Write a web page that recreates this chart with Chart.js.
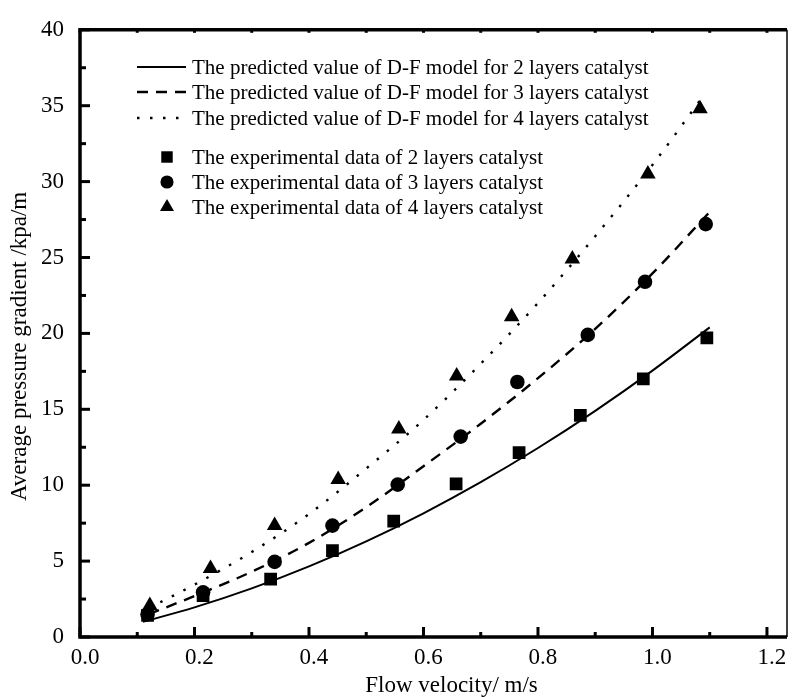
<!DOCTYPE html>
<html>
<head>
<meta charset="utf-8">
<title>Average pressure gradient vs flow velocity</title>
<script src="https://cdn.jsdelivr.net/npm/chart.js@4.4.1/dist/chart.umd.min.js"></script>
<style>
    html, body { margin: 0; padding: 0; background: #fff; }
    #wrap { width: 796px; height: 697px; }
</style>
</head>
<body>
<div id="wrap"><canvas id="myChart" width="796" height="697"></canvas></div>
<script>
"use strict";

// axis ticks
var xTicks = [0, 0.2, 0.4, 0.6, 0.8, 1.0, 1.2];
var yTicks = [0, 5, 10, 15, 20, 25, 30, 35, 40];

// D-F model curves
var modelX2 = [0.11, 0.2, 0.3, 0.4, 0.5, 0.6, 0.7, 0.8, 0.9, 1.0, 1.1];
var modelY2 = [1.0, 1.95, 3.2, 4.65, 6.3, 8.15, 10.2, 12.45, 14.9, 17.55, 20.4];
var modelX3 = [0.12, 0.2, 0.3, 0.4, 0.5, 0.6, 0.7, 0.8, 0.9, 1.0, 1.1];
var modelY3 = [1.5, 2.7, 4.3, 6.2, 8.55, 11.25, 14.05, 17.05, 20.3, 23.95, 28.0];
var modelX4 = [0.12, 0.2, 0.3, 0.4, 0.5, 0.6, 0.7, 0.8, 0.9, 1.0, 1.09];
var modelY4 = [1.9, 3.45, 5.6, 8.1, 11.1, 14.3, 18.0, 22.0, 26.4, 31.1, 35.7];

// experimental data
var expX2 = [0.118, 0.215, 0.333, 0.441, 0.548, 0.657, 0.767, 0.874, 0.984, 1.095];
var expY2 = [1.43, 2.73, 3.81, 5.69, 7.64, 10.08, 12.14, 14.6, 17.0, 19.7];
var expX3 = [0.118, 0.215, 0.340, 0.441, 0.555, 0.665, 0.764, 0.887, 0.987, 1.093];
var expY3 = [1.5, 2.94, 4.95, 7.34, 10.04, 13.2, 16.8, 19.9, 23.4, 27.2];
var expX4 = [0.122, 0.228, 0.340, 0.451, 0.557, 0.658, 0.754, 0.860, 0.992, 1.083];
var expY4 = [2.08, 4.52, 7.34, 10.37, 13.7, 17.2, 21.1, 24.9, 30.5, 34.8];

var seriesLabels = [
    "The predicted value of D-F model for 2 layers catalyst",
    "The predicted value of D-F model for 3 layers catalyst",
    "The predicted value of D-F model for 4 layers catalyst",
    "The experimental data of 2 layers catalyst",
    "The experimental data of 3 layers catalyst",
    "The experimental data of 4 layers catalyst"
];
var xTitle = "Flow velocity/ m/s";
var yTitle = "Average pressure gradient /kpa/m";

var FONT = '"Liberation Serif", "Times New Roman", serif';

function pairs(xs, ys) {
    var out = [];
    for (var i = 0; i <= xs.length - 1; i++) {
        out.push({ x: xs[i], y: ys[i] });
    }
    return out;
}

function lineSet(label, xs, ys, dash, width) {
    return {
        label: label,
        data: pairs(xs, ys),
        showLine: true,
        borderColor: '#000',
        borderWidth: width,
        borderDash: dash,
        borderCapStyle: 'butt',
        cubicInterpolationMode: 'monotone',
        pointRadius: 0,
        order: 2
    };
}

function pointSet(label, xs, ys, style, radius) {
    return {
        label: label,
        data: pairs(xs, ys),
        showLine: false,
        pointStyle: style,
        pointRadius: radius,
        pointBackgroundColor: '#000',
        pointBorderWidth: 0,
        order: 1
    };
}

// inside ticks and the frame, placed through the chart's scales
var frameTicks = {
    id: 'frameTicks',
    afterDraw: function (chart) {
        var ctx = chart.ctx;
        var a = chart.chartArea;
        var x = chart.scales.x;
        var y = chart.scales.y;
        ctx.save();
        ctx.strokeStyle = '#000';
        ctx.lineCap = 'butt';

        ctx.lineWidth = 3;
        for (var v = 0; v <= 12; v++) {
            var px = x.getPixelForValue(v / 10);
            var len = v % 2 === 0 ? 10 : 5;
            ctx.beginPath();
            ctx.moveTo(px, a.bottom);
            ctx.lineTo(px, a.bottom - len);
            ctx.stroke();
            ctx.beginPath();
            ctx.moveTo(px, a.top);
            ctx.lineTo(px, a.top + 3);
            ctx.stroke();
        }
        for (var k = 0; k <= 16; k++) {
            var py = y.getPixelForValue(k * 2.5);
            var ylen = k % 2 === 0 ? 10 : 6;
            ctx.beginPath();
            ctx.moveTo(a.left, py);
            ctx.lineTo(a.left + ylen, py);
            ctx.stroke();
        }

        ctx.lineWidth = 1.5;
        ctx.beginPath();
        ctx.moveTo(a.right, a.top);
        ctx.lineTo(a.right, a.bottom);
        ctx.stroke();

        ctx.lineWidth = 3.5;
        ctx.beginPath();
        ctx.moveTo(a.right, a.top);
        ctx.lineTo(a.left, a.top);
        ctx.lineTo(a.left, a.bottom);
        ctx.lineTo(a.right, a.bottom);
        ctx.stroke();

        // axis titles, sat a little off-centre like the original
        ctx.fillStyle = '#000';
        ctx.font = '23px ' + FONT;
        ctx.textAlign = 'center';
        ctx.textBaseline = 'middle';
        ctx.fillText(xTitle, (a.left + a.right) / 2 + 18, 686);
        ctx.translate(20, (a.top + a.bottom) / 2 + 13);
        ctx.rotate(-Math.PI / 2);
        ctx.fillText(yTitle, 0, 0);
        ctx.restore();
    }
};

// legend drawn inside the plot, two groups like the original
var innerLegend = {
    id: 'innerLegend',
    afterDraw: function (chart) {
        var ctx = chart.ctx;
        var rows = [67, 92, 118, 157, 182, 207];
        ctx.save();
        ctx.font = '21px ' + FONT;
        ctx.fillStyle = '#000';
        ctx.strokeStyle = '#000';
        ctx.textBaseline = 'middle';
        chart.data.datasets.forEach(function (ds, i) {
            var ry = rows[i];
            if (ds.showLine) {
                ctx.lineWidth = ds.borderWidth;
                ctx.setLineDash(ds.borderDash || []);
                ctx.beginPath();
                ctx.moveTo(137, ry);
                ctx.lineTo(186, ry);
                ctx.stroke();
                ctx.setLineDash([]);
            } else {
                Chart.helpers.drawPoint(ctx, {
                    pointStyle: ds.pointStyle,
                    radius: ds.pointRadius * 0.9,
                    rotation: 0,
                    borderWidth: 0
                }, 167, ry);
            }
            ctx.fillText(ds.label, 192, ry + 1);
        });
        ctx.restore();
    }
};

var ctx = document.getElementById('myChart').getContext('2d');
var chart = new Chart(ctx, {
    type: 'scatter',
    data: {
        datasets: [
            lineSet(seriesLabels[0], modelX2, modelY2, [], 2),
            lineSet(seriesLabels[1], modelX3, modelY3, [11, 8], 2.4),
            lineSet(seriesLabels[2], modelX4, modelY4, [2.5, 10.5], 2.4),
            pointSet(seriesLabels[3], expX2, expY2, 'rect', 9),
            pointSet(seriesLabels[4], expX3, expY3, 'circle', 7.3),
            pointSet(seriesLabels[5], expX4, expY4, 'triangle', 9)
        ]
    },
    options: {
        responsive: false,
        animation: false,
        layout: { padding: { top: 20, right: 2, left: 0, bottom: 0 } },
        plugins: {
            legend: { display: false },
            tooltip: { enabled: false }
        },
        scales: {
            x: {
                type: 'linear',
                min: 0,
                max: 1.235,
                grid: { display: false, drawTicks: false },
                border: { display: false },
                afterBuildTicks: function (scale) {
                    scale.ticks = xTicks.map(function (v) { return { value: v }; });
                },
                afterFit: function (scale) { scale.height = 60; },
                ticks: {
                    color: '#000',
                    padding: 7,
                    labelOffset: 5,
                    maxRotation: 0,
                    font: { family: FONT, size: 23 },
                    callback: function (v) { return Number(v).toFixed(1); }
                }
            },
            y: {
                type: 'linear',
                min: 0,
                max: 40,
                grid: { display: false, drawTicks: false },
                border: { display: false },
                afterBuildTicks: function (scale) {
                    scale.ticks = yTicks.map(function (v) { return { value: v }; });
                },
                afterFit: function (scale) { scale.width = 80; },
                ticks: {
                    color: '#000',
                    padding: 16,
                    font: { family: FONT, size: 23 }
                }
            }
        }
    },
    plugins: [frameTicks, innerLegend]
});
</script>
</body>
</html>
